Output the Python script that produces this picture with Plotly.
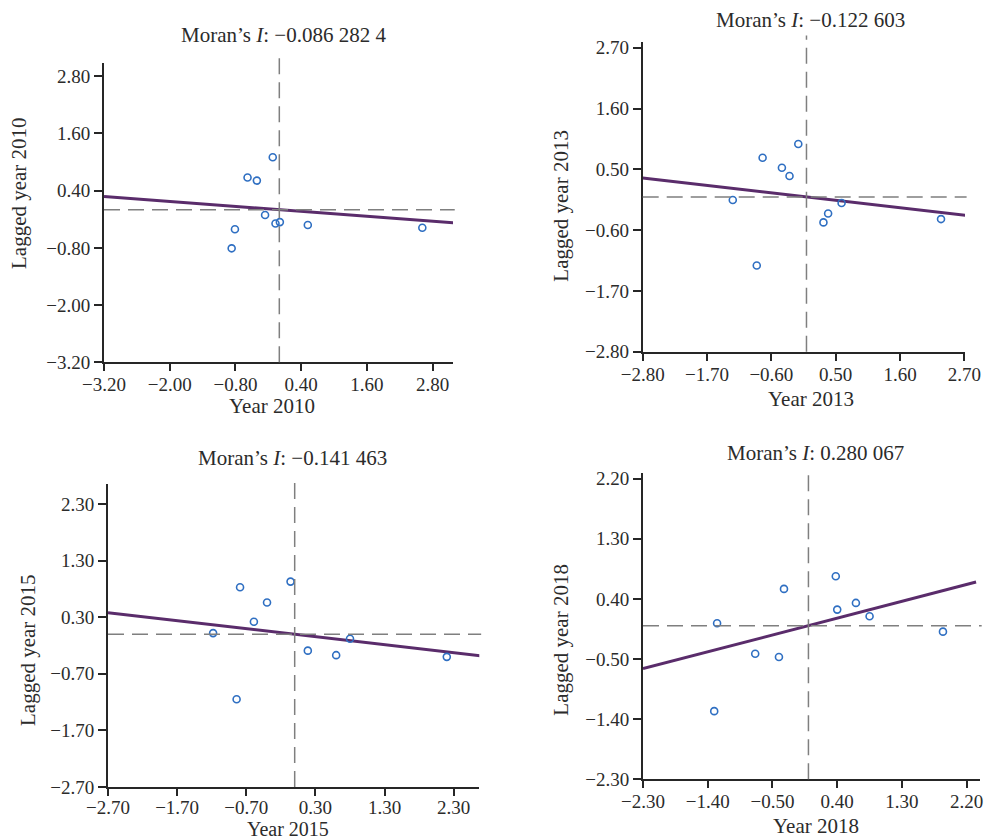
import plotly.graph_objects as go

# ---------------- data ----------------
years = ["2010", "2013", "2015", "2018"]
moran_i = [-0.0862824, -0.122603, -0.141463, 0.280067]
moran_text = ["−0.086 282 4", "−0.122 603", "−0.141 463", "0.280 067"]

x_2010 = [-0.12, -0.58, -0.41, -0.26, -0.07, 0.01, 0.52, 2.61, -0.81, -0.87]
y_2010 = [1.10, 0.675, 0.61, -0.11, -0.29, -0.26, -0.32, -0.38, -0.41, -0.81]

x_2013 = [-0.14, -0.75, -0.42, -0.29, -1.26, 0.60, 0.37, 0.29, 2.30, -0.85]
y_2013 = [0.96, 0.71, 0.53, 0.38, -0.055, -0.11, -0.30, -0.46, -0.40, -1.24]

x_2015 = [-0.06, -0.79, -0.40, -0.59, -1.18, 0.80, 0.19, 0.60, 2.20, -0.84]
y_2015 = [0.93, 0.83, 0.56, 0.22, 0.02, -0.08, -0.29, -0.37, -0.40, -1.15]

x_2018 = [0.38, -0.34, 0.66, 0.40, 0.85, -1.27, 1.87, -0.74, -0.41, -1.31]
y_2018 = [0.74, 0.55, 0.34, 0.24, 0.14, 0.035, -0.09, -0.42, -0.47, -1.28]

xs = [x_2010, x_2013, x_2015, x_2018]
ys = [y_2010, y_2013, y_2015, y_2018]

ticks_2010 = [-3.20, -2.00, -0.80, 0.40, 1.60, 2.80]
ticks_2013 = [-2.80, -1.70, -0.60, 0.50, 1.60, 2.70]
ticks_2015 = [-2.70, -1.70, -0.70, 0.30, 1.30, 2.30]
ticks_2018 = [-2.30, -1.40, -0.50, 0.40, 1.30, 2.20]
ticks = [ticks_2010, ticks_2013, ticks_2015, ticks_2018]

x_ranges = [[-3.20, 3.17], [-2.80, 2.71], [-2.70, 2.67], [-2.30, 2.385]]
y_ranges = [[-3.20, 3.07], [-2.80, 2.81], [-2.70, 2.65], [-2.30, 2.28]]
fit_x_ends = [[-3.20, 3.35], [-2.80, 2.82], [-2.70, 2.72], [-2.30, 2.33]]
mean_x = [0, 0, 0, 0]
mean_y = [0, 0, 0, 0]

# ---------------- layout geometry (pixels) ----------------
W, H = 988, 839
# plot area boxes: left, right, top, bottom in pixels
boxes = [(104, 453, 63.3, 362.3),
         (642.7, 965, 41.7, 351.7),
         (108, 479.3, 484.3, 787),
         (643, 980, 473.3, 779.3)]
title_pos = [(283, 35), (810.7, 20), (292.7, 458), (815.7, 453)]
ytitle_pos = [(19, 193), (560.7, 206), (28, 650), (560.7, 640)]
xtitle_pos = [(272, 406), (810.7, 399), (288, 829), (815.7, 826)]
xtitle_size = [21, 21, 20, 21]
xtick_standoff = [-3, -3, -5, -3]

FONT = "Liberation Serif, Times New Roman, serif"
FS_TICK = 19
FS_TEXT = 21
AXC = "#262626"
MARK = "#2f6fc2"
LINEC = "#5a2c6b"
DASHC = "#7f7f7f"
TXT = "#2b2b2b"


def fmt(v):
    s = f"{v:.2f}"
    return s.replace("-", "−")


fig = go.Figure()
layout = {}
shapes = []
annotations = []

for i in range(4):
    n = "" if i == 0 else str(i + 1)
    xa, ya = "x" + n, "y" + n
    l, r, t, b = boxes[i]
    layout["xaxis" + n] = dict(
        domain=[l / W, r / W], range=x_ranges[i], anchor=ya,
        tickvals=ticks[i], ticktext=[fmt(v) for v in ticks[i]],
        showgrid=False, zeroline=False, showline=True, linecolor=AXC, linewidth=2,
        ticks="outside", ticklen=7, tickwidth=1.5, tickcolor=AXC, automargin=False,
        ticklabelstandoff=xtick_standoff[i],
        tickfont=dict(family=FONT, size=FS_TICK, color=TXT), fixedrange=True,
    )
    layout["yaxis" + n] = dict(
        domain=[1 - b / H, 1 - t / H], range=y_ranges[i], anchor=xa,
        tickvals=ticks[i], ticktext=[fmt(v) for v in ticks[i]],
        showgrid=False, zeroline=False, showline=True, linecolor=AXC, linewidth=2,
        ticks="outside", ticklen=8, tickwidth=1.5, tickcolor=AXC, automargin=False,
        tickfont=dict(family=FONT, size=FS_TICK, color=TXT), fixedrange=True,
    )

for i in range(4):
    n = "" if i == 0 else str(i + 1)
    xa, ya = "x" + n, "y" + n
    # mean reference lines (dashed)
    shapes.append(dict(type="line", xref=xa, yref=ya + " domain", x0=mean_x[i], x1=mean_x[i],
                       y0=0, y1=1.02, line=dict(color=DASHC, width=1.5, dash="16px,8px")))
    shapes.append(dict(type="line", xref=xa + " domain", yref=ya, x0=0, x1=1.005,
                       y0=mean_y[i], y1=mean_y[i], line=dict(color=DASHC, width=1.5, dash="16px,8px")))
    # regression line with slope = Moran's I
    fx = fit_x_ends[i]
    fy = [moran_i[i] * v for v in fx]
    fig.add_trace(go.Scatter(x=fx, y=fy, mode="lines", xaxis=xa, yaxis=ya,
                             line=dict(color=LINEC, width=3), cliponaxis=False,
                             showlegend=False, hoverinfo="skip"))
    fig.add_trace(go.Scatter(x=xs[i], y=ys[i], mode="markers", xaxis=xa, yaxis=ya,
                             marker=dict(symbol="circle-open", size=7, color=MARK,
                                         line=dict(width=1.6, color=MARK)),
                             showlegend=False))
    # titles
    tx, ty = title_pos[i]
    annotations.append(dict(xref="paper", yref="paper", x=tx / W, y=1 - ty / H,
                            text="Moran’s <i>I</i>: " + moran_text[i], showarrow=False,
                            xanchor="center", yanchor="middle",
                            font=dict(family=FONT, size=FS_TEXT, color=TXT)))
    yx, yy = ytitle_pos[i]
    annotations.append(dict(xref="paper", yref="paper", x=yx / W, y=1 - yy / H,
                            text="Lagged year " + years[i], showarrow=False, textangle=-90,
                            xanchor="center", yanchor="middle",
                            font=dict(family=FONT, size=FS_TEXT, color=TXT)))
    xx, xy = xtitle_pos[i]
    annotations.append(dict(xref="paper", yref="paper", x=xx / W, y=1 - xy / H,
                            text="Year " + years[i], showarrow=False,
                            xanchor="center", yanchor="middle",
                            font=dict(family=FONT, size=xtitle_size[i], color=TXT)))

fig.update_layout(
    width=W, height=H, margin=dict(l=0, r=0, t=0, b=0, pad=0, autoexpand=False),
    paper_bgcolor="white", plot_bgcolor="white",
    shapes=shapes, annotations=annotations, showlegend=False,
    **layout,
)

fig.write_html("out.html", config={"displayModeBar": False},
               post_script="document.body.style.margin='0';document.body.style.overflow='hidden';")
